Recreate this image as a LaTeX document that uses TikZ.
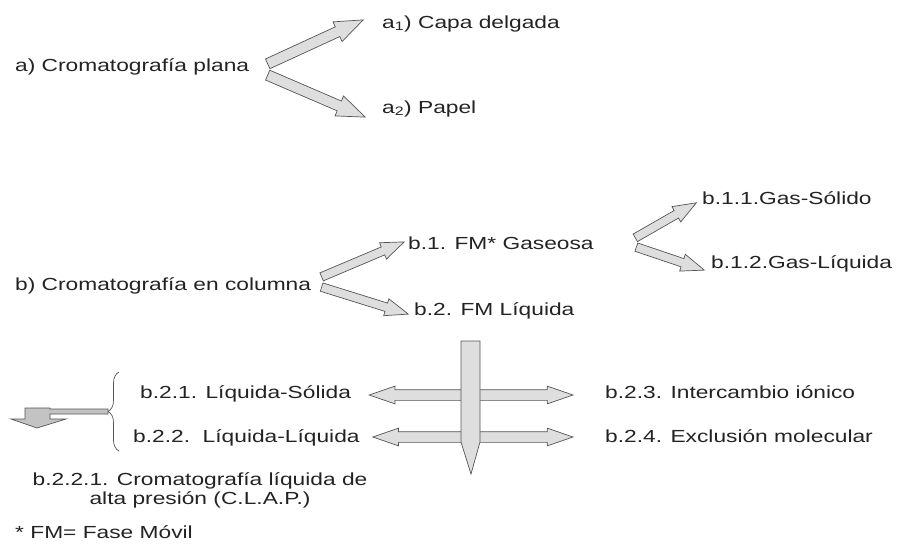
\documentclass[tikz,border=0pt]{standalone}
\usepackage{fontspec}
\setmainfont{Liberation Sans}[FakeStretch=1.3]
\usepackage{tikz}
\usetikzlibrary{shapes.arrows,decorations.pathreplacing,calc}
\definecolor{ink}{RGB}{35,35,35}
\definecolor{shade}{RGB}{222,222,222}
\definecolor{darkshade}{RGB}{195,195,195}
\definecolor{edge}{RGB}{85,85,85}
% hollow block arrow from #2 to #3
\newcommand{\fatarrow}[3][]{%
  \path let \p1=(#2), \p2=(#3), \n1={veclen(\x2-\x1,\y2-\y1)} in
    (\p1) -- (\p2) node[fat, pos=0, sloped, anchor=tail, minimum height=\n1, #1] {};}

\begin{document}
\begin{tikzpicture}
  [
    x=1pt, y=-1pt,
    lbl/.style={anchor=base west, inner sep=0pt, text=ink, font=\fontsize{17.5}{19.5}\selectfont},
    fat/.style={single arrow, draw=edge, fill=shade, line width=0.7pt, inner sep=0pt, inner ysep=5pt,
      minimum width=0pt, single arrow head extend=5.5pt, single arrow tip angle=42},
    thin/.style={inner ysep=4pt, single arrow head extend=4.5pt},
    both/.style={double arrow, pos=.5, anchor=center, inner ysep=5pt, double arrow head extend=3.5pt,
      double arrow tip angle=38},
    solid shape/.style={draw=edge, fill=shade, line width=0.7pt, line join=miter},
  ]
  \useasboundingbox (0,0) rectangle (898,552);

  % a) plana
  \node [lbl] (aplana) at (15,71) {a) Cromatografía plana};
  \node [lbl] (acapa) at (382,28) {a\textsubscript{1}) Capa delgada};
  \node [lbl] (apapel) at (382,113) {a\textsubscript{2}) Papel};
  \coordinate (aup) at ($(aplana.base east)+(18,-7)$);
  \coordinate (adown) at ($(aplana.base east)+(18,4)$);
  \fatarrow{aup}{$(acapa.base west)+(-19,-8)$}
  \fatarrow{adown}{$(apapel.base west)+(-17,4)$}

  % b) columna
  \node [lbl] (bcol) at (15,290) {b) Cromatografía en columna};
  \node [lbl] (bgas) at (408,249) {b.1. FM* Gaseosa};
  \node [lbl] (bliq) at (414,315) {b.2. FM Líquida};
  \node [lbl] (gsol) at (702,204) {b.1.1.Gas-Sólido};
  \node [lbl] (gliq) at (711,268) {b.1.2.Gas-Líquida};
  \coordinate (bup) at ($(bcol.base east)+(10,-13)$);
  \coordinate (bdown) at ($(bcol.base east)+(10,-3)$);
  \fatarrow[thin]{bup}{$(bgas.base west)+(-4,-7)$}
  \fatarrow[thin]{bdown}{$(bliq.base west)+(-6,-1)$}
  \coordinate (gup) at ($(gsol.base west)+(-67,34)$);
  \coordinate (gdown) at ($(gsol.base west)+(-66,43)$);
  \fatarrow[thin]{gup}{$(gsol.base west)+(-6,-1)$}
  \fatarrow[thin]{gdown}{$(gliq.base west)+(-7,2)$}

  % b.2 liquida
  \node [lbl] (lsol) at (140,398) {b.2.1. Líquida-Sólida};
  \node [lbl] (lliq) at (133,442) {b.2.2.\ \ Líquida-Líquida};
  \node [lbl] (inter) at (605,398) {b.2.3. Intercambio iónico};
  \node [lbl] (excl) at (605,442) {b.2.4. Exclusión molecular};
  \node [lbl, anchor=north, align=center] (clap) at (200,472) {b.2.2.1. Cromatografía líquida de\\alta presión (C.L.A.P.)};
  \node [lbl] (nota) at (15,538) {* FM= Fase Móvil};
  \fatarrow[both]{$(lsol.base east)+(18,-3)$}{$(inter.base west)+(-32,-3)$}
  \fatarrow[both]{$(lliq.base east)+(13,-5)$}{$(excl.base west)+(-32,-5)$}
  \draw [solid shape] (461,341) -- (480,341) -- (480,442) -- (471,474) -- (461,442) -- cycle;

  \draw [edge, line width=0.7pt, decorate, decoration={brace, amplitude=11pt}] (119,451) -- (119,372);
  \draw [solid shape, fill=darkshade] (108,409) -- (108,414) -- (50,414) -- (50,419) -- (66,419) -- (37,428)
    -- (11,419) -- (25,419) -- (25,408) -- (50,408) -- (50,409) -- cycle;
\end{tikzpicture}
\end{document}
